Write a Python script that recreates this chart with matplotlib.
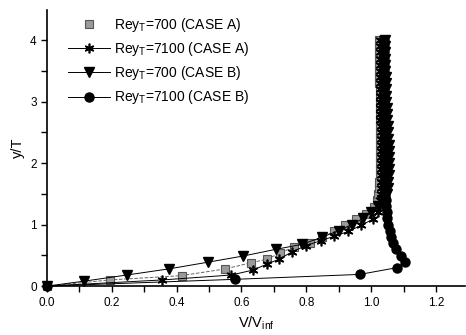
import matplotlib.pyplot as plt

# velocity profiles: V/Vinf (x) vs y/T (y)
y_col = [1.5, 1.6, 1.7, 1.8, 1.9, 2.0, 2.1, 2.2, 2.3, 2.4, 2.5, 2.6, 2.7,
         2.8, 2.9, 3.0, 3.1, 3.2, 3.3, 3.4, 3.5, 3.6, 3.7, 3.8, 3.9, 4.0]

# Rey_T=700 (CASE A) - squares
xa700 = [0.0, 0.194, 0.415, 0.55, 0.63, 0.68, 0.72, 0.763, 0.81, 0.85,
         0.886, 0.92, 0.953, 0.985, 1.01, 1.018,
         1.022, 1.024, 1.025, 1.026, 1.026, 1.027, 1.027, 1.027, 1.027, 1.027,
         1.027, 1.027, 1.027, 1.026, 1.026, 1.026, 1.026, 1.026, 1.025, 1.025,
         1.025, 1.025, 1.025, 1.025, 1.025, 1.025]
ya700 = [0.0, 0.10, 0.17, 0.28, 0.38, 0.44, 0.54, 0.64, 0.70, 0.80,
         0.89, 0.99, 1.09, 1.18, 1.29, 1.40] + y_col

# Rey_T=7100 (CASE A) - stars
xa7100 = [0.0, 0.356, 0.568, 0.635, 0.68, 0.717, 0.757, 0.80, 0.845, 0.886,
          0.93, 0.97, 1.006, 1.02, 1.026, 1.029,
          1.030, 1.031, 1.031, 1.031, 1.031, 1.031, 1.030, 1.030, 1.030, 1.030,
          1.030, 1.030, 1.029, 1.029, 1.029, 1.029, 1.029, 1.029, 1.028, 1.028,
          1.028, 1.028, 1.028, 1.028, 1.028, 1.028]
ya7100 = [0.0, 0.10, 0.18, 0.26, 0.36, 0.44, 0.56, 0.66, 0.74, 0.81,
          0.89, 0.99, 1.09, 1.20, 1.30, 1.40] + y_col

# Rey_T=700 (CASE B) - triangles
xb700 = [0.0, 0.114, 0.246, 0.376, 0.498, 0.606, 0.708, 0.788, 0.85, 0.90,
         0.94, 0.975, 1.00, 1.02, 1.035, 1.043,
         1.048, 1.051, 1.053, 1.054, 1.055, 1.055, 1.055, 1.054, 1.054, 1.053,
         1.052, 1.051, 1.050, 1.049, 1.048, 1.047, 1.046, 1.046, 1.045, 1.045,
         1.044, 1.044, 1.043, 1.043, 1.042, 1.042]
yb700 = [0.0, 0.08, 0.18, 0.28, 0.39, 0.49, 0.60, 0.68, 0.80, 0.90,
         1.00, 1.10, 1.20, 1.30, 1.40, 1.45] + y_col

# Rey_T=7100 (CASE B) - circles
xb7100 = [0.0, 0.58, 0.965, 1.08, 1.105, 1.092, 1.077, 1.068, 1.062, 1.057,
          1.053, 1.050, 1.048, 1.046, 1.045, 1.044,
          1.043, 1.043, 1.042, 1.042, 1.042, 1.041, 1.041, 1.041, 1.041, 1.040,
          1.040, 1.040, 1.040, 1.040, 1.040, 1.040, 1.039, 1.039, 1.039, 1.039,
          1.039, 1.039, 1.039, 1.039, 1.039, 1.039]
yb7100 = [0.0, 0.11, 0.19, 0.30, 0.39, 0.49, 0.60, 0.70, 0.80, 0.90,
          1.00, 1.10, 1.20, 1.30, 1.40, 1.45] + y_col

labels = [r'Rey$_\mathregular{T}$=700 (CASE A)',
          r'Rey$_\mathregular{T}$=7100 (CASE A)',
          r'Rey$_\mathregular{T}$=700 (CASE B)',
          r'Rey$_\mathregular{T}$=7100 (CASE B)']

plt.rcParams['font.family'] = ['Liberation Sans', 'DejaVu Sans']
plt.rcParams['mathtext.fontset'] = 'custom'
plt.rcParams['mathtext.rm'] = 'Liberation Sans'

fig = plt.figure(figsize=(4.66, 3.35), dpi=100)
ax = fig.add_axes([0.101, 0.146, 0.897, 0.824])

ax.plot(xa700, ya700, color='#666666', lw=0.7, ls='--', zorder=2)
ax.plot(xa700, ya700, ls='none', marker='s', ms=5.5, mfc='#9a9a9a', mec='#555555',
        mew=0.8, label=labels[0], zorder=3, clip_on=False)
ax.plot(xa7100, ya7100, color='black', lw=0.7, marker=(6, 2, 0), ms=7, mew=1.2,
        label=labels[1], zorder=3, clip_on=False)
ax.plot(xb700, yb700, color='black', lw=0.7, marker='v', ms=6.5,
        label=labels[2], zorder=3, clip_on=False)
ax.plot(xb7100, yb7100, color='black', lw=0.7, marker='o', ms=6.5,
        label=labels[3], zorder=3, clip_on=False)

ax.set_xlim(0, 1.29)
ax.set_ylim(0, 4.49)
ax.set_xticks([0.0, 0.2, 0.4, 0.6, 0.8, 1.0, 1.2])
ax.set_xticks([0.1, 0.3, 0.5, 0.7, 0.9, 1.1], minor=True)
ax.set_yticks([0, 1, 2, 3, 4])
ax.set_yticks([0.5, 1.5, 2.5, 3.5], minor=True)
ax.set_xticklabels(['0.0', '0.2', '0.4', '0.6', '0.8', '1.0', '1.2'])
ax.tick_params(which='both', direction='out', length=4, width=1, labelsize=8.5)

for s in ['top', 'right']:
    ax.spines[s].set_visible(False)
ax.spines['left'].set_linewidth(1.2)
ax.spines['bottom'].set_linewidth(1.2)

ax.set_xlabel(r'V/V$_\mathregular{inf}$', fontsize=10.5)
ax.set_ylabel('y/T', fontsize=10.5)

ax.legend(loc='upper left', bbox_to_anchor=(0.03, 1.01), frameon=False,
          fontsize=10, handlelength=3.0, handletextpad=0.3, labelspacing=0.45,
          borderaxespad=0.2)

fig.savefig('out.png', dpi=100)
